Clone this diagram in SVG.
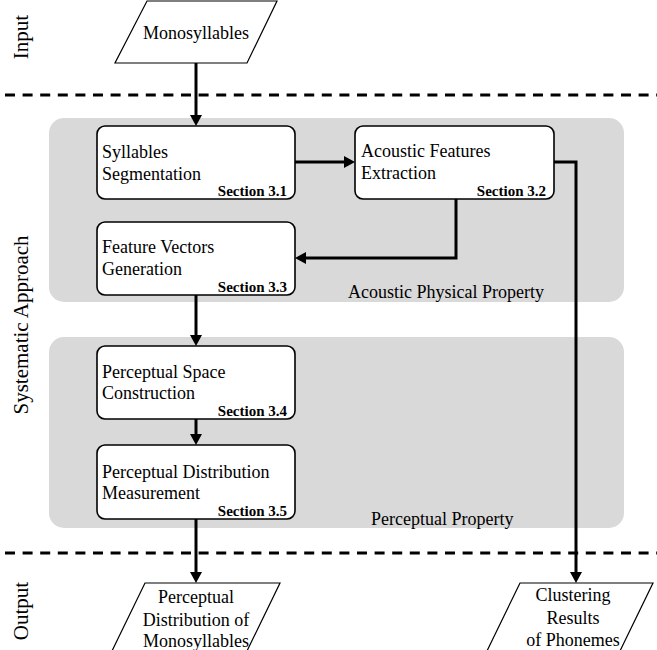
<svg xmlns="http://www.w3.org/2000/svg" width="657" height="650" viewBox="0 0 657 650">
<style>
text{font-family:"Liberation Serif","Times New Roman",serif;fill:#000}
.t{font-size:18px}
.s{font-size:15px;font-weight:bold;text-anchor:end}
.side{font-size:21px;text-anchor:middle}
.c{text-anchor:middle}
.panel{fill:#d9d9d9}
.box{fill:#fff;stroke:#000;stroke-width:1.6}
.para{fill:#fff;stroke:#000;stroke-width:1.2}
.dash{stroke:#000;stroke-width:3;stroke-dasharray:10 7.6;fill:none}
.conn{stroke:#000;stroke-width:3;fill:none}
</style>
<defs>
<marker id="arr" markerUnits="userSpaceOnUse" markerWidth="12" markerHeight="14" refX="0" refY="6" orient="auto" viewBox="0 0 12 12" overflow="visible">
<path d="M0,0 L11,6 L0,12 z" fill="#000"/>
</marker>
</defs>
<rect width="657" height="650" fill="#fff"/>
<g id="side-labels">
<text class="side" transform="translate(28,37) rotate(-90)">Input</text>
<text class="side" transform="translate(28,325) rotate(-90)">Systematic Approach</text>
<text class="side" transform="translate(28,611) rotate(-90)">Output</text>
</g>
<g id="separators">
<line class="dash" x1="5" y1="95" x2="657" y2="95"/>
<line class="dash" x1="5" y1="553" x2="657" y2="553"/>
</g>
<g id="panel-acoustic">
<rect class="panel" x="49" y="118" width="575" height="184" rx="15"/>
<text class="t" x="348" y="298">Acoustic Physical Property</text>
</g>
<g id="panel-perceptual">
<rect class="panel" x="49" y="337" width="575" height="191" rx="15"/>
<text class="t" x="371" y="525">Perceptual Property</text>
</g>
<g id="connectors">
<path class="conn" d="M196,63 V115" marker-end="url(#arr)"/>
<path class="conn" d="M295,162 H344" marker-end="url(#arr)"/>
<path class="conn" d="M456,199 V258 H306" marker-end="url(#arr)"/>
<path class="conn" d="M554,162 H576 V572" marker-end="url(#arr)"/>
<path class="conn" d="M196,295 V335" marker-end="url(#arr)"/>
<path class="conn" d="M196,419 V434" marker-end="url(#arr)"/>
<path class="conn" d="M196,519 V572" marker-end="url(#arr)"/>
</g>
<g id="input-monosyllables">
<polygon class="para" points="147,1 277,1 247,63 115,63"/>
<text class="t c" x="196" y="39">Monosyllables</text>
</g>
<g id="node-3-1">
<rect class="box" x="97" y="126" width="198" height="73" rx="8"/>
<text class="t" x="102" y="158">Syllables</text>
<text class="t" x="102" y="180">Segmentation</text>
<text class="s" x="287" y="196">Section 3.1</text>
</g>
<g id="node-3-2">
<rect class="box" x="355" y="126" width="199" height="73" rx="8"/>
<text class="t" x="361" y="157">Acoustic Features</text>
<text class="t" x="361" y="179">Extraction</text>
<text class="s" x="546" y="196">Section 3.2</text>
</g>
<g id="node-3-3">
<rect class="box" x="97" y="222" width="198" height="73" rx="8"/>
<text class="t" x="102" y="253">Feature Vectors</text>
<text class="t" x="102" y="275">Generation</text>
<text class="s" x="287" y="292">Section 3.3</text>
</g>
<g id="node-3-4">
<rect class="box" x="97" y="346" width="198" height="73" rx="8"/>
<text class="t" x="102" y="378">Perceptual Space</text>
<text class="t" x="102" y="399">Construction</text>
<text class="s" x="287" y="416">Section 3.4</text>
</g>
<g id="node-3-5">
<rect class="box" x="97" y="445" width="198" height="74" rx="8"/>
<text class="t" x="102" y="478">Perceptual Distribution</text>
<text class="t" x="102" y="499">Measurement</text>
<text class="s" x="287" y="516">Section 3.5</text>
</g>
<g id="output-distribution">
<polygon class="para" points="145,583 280,583 246,653 111,653"/>
<text class="t c" x="196" y="603">Perceptual</text>
<text class="t c" x="196" y="626">Distribution of</text>
<text class="t c" x="196" y="647">Monosyllables</text>
</g>
<g id="output-clustering">
<polygon class="para" points="520,583 653,583 619,653 486,653"/>
<text class="t c" x="573" y="601">Clustering</text>
<text class="t c" x="573" y="624">Results</text>
<text class="t c" x="573" y="646">of Phonemes</text>
</g>
</svg>
